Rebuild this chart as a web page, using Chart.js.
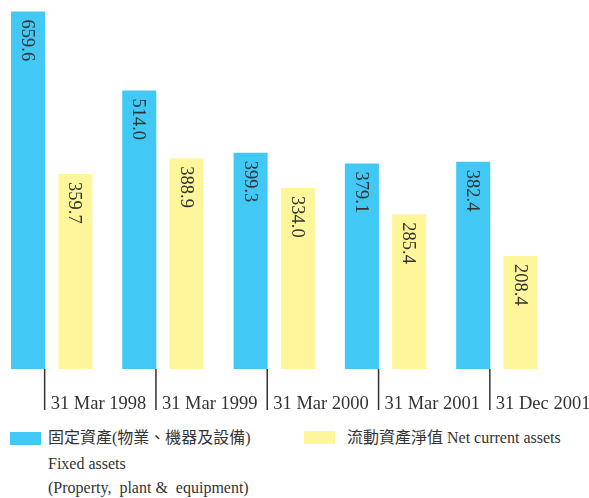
<!DOCTYPE html>
<html>
<head>
<meta charset="utf-8">
<script src="https://cdn.jsdelivr.net/npm/chart.js@4"></script>
<style>
  body { margin: 0; background: #fff; overflow: hidden; }
  #wrap { position: relative; width: 589px; height: 498px; overflow: hidden; }
  canvas { position: absolute; left: -4px; top: 0; }
  .legend { position: absolute; font-family: "Liberation Serif", "Noto Sans CJK TC", serif; font-size: 16px; color: #333; line-height: 24px; white-space: pre; }
  .box { position: absolute; height: 13px; width: 31px; }
</style>
</head>
<body>
<div id="wrap">
  <canvas id="assetsChart" width="593" height="415"></canvas>
  <div class="box" style="left:10px; top:432px; background:#41c8f5;"></div>
  <div class="legend" style="left:48px; top:426px;">固定資產(物業、機器及設備)
<span style="position:relative; top:2px;">Fixed assets</span>
<span style="position:relative; top:2px;">(Property,  plant &amp;  equipment)</span></div>
  <div class="box" style="left:304px; top:431px; background:#fff69b;"></div>
  <div class="legend" style="left:347px; top:426px;">流動資產淨值 Net current assets</div>
</div>
<script>
const dates = ['31 Mar 1998', '31 Mar 1999', '31 Mar 2000', '31 Mar 2001', '31 Dec 2001'];
const fixedAssets = [659.6, 514.0, 399.3, 379.1, 382.4];
const netCurrentAssets = [359.7, 388.9, 334.0, 285.4, 208.4];

const serif = '"Liberation Serif", "Times New Roman", serif';

// value written down inside each bar, rotated
const barLabels = {
    id: 'barLabels',
    afterDatasetsDraw(chart) {
        const ctx = chart.ctx;
        ctx.save();
        ctx.font = '18.5px ' + serif;
        ctx.fillStyle = '#333';
        ctx.textAlign = 'left';
        ctx.textBaseline = 'middle';
        chart.data.datasets.forEach((ds, i) => {
            chart.getDatasetMeta(i).data.forEach((bar, j) => {
                ctx.save();
                ctx.translate(bar.x, bar.y + 8);
                ctx.rotate(Math.PI / 2);
                ctx.fillText(ds.data[j].toFixed(1), 0, 1);
                ctx.restore();
            });
        });
        ctx.restore();
    }
};

// date labels with a separator line left of each
const dateAxis = {
    id: 'dateAxis',
    afterDraw(chart) {
        const ctx = chart.ctx;
        const x = chart.scales.x;
        const bottom = chart.chartArea.bottom;
        ctx.save();
        ctx.strokeStyle = '#333';
        ctx.lineWidth = 1.5;
        ctx.fillStyle = '#333';
        ctx.font = '18.5px ' + serif;
        ctx.textAlign = 'left';
        ctx.textBaseline = 'alphabetic';
        dates.forEach((d, i) => {
            const px = x.getPixelForValue(i) - 7;
            ctx.beginPath();
            ctx.moveTo(px, bottom);
            ctx.lineTo(px, bottom + 41);
            ctx.stroke();
            ctx.fillText(d, px + 6, bottom + 40);
        });
        ctx.restore();
    }
};

const ctx = document.getElementById('assetsChart').getContext('2d');
new Chart(ctx, {
    type: 'bar',
    data: {
        labels: dates,
        datasets: [{
            label: '固定資產(物業、機器及設備) Fixed assets (Property, plant & equipment)',
            data: fixedAssets,
            backgroundColor: '#41c8f5'
        }, {
            label: '流動資產淨值 Net current assets',
            data: netCurrentAssets,
            backgroundColor: '#fff69b'
        }]
    },
    options: {
        responsive: false,
        animation: false,
        layout: { padding: { left: 0, right: 36.5, top: 0, bottom: 46 } },
        categoryPercentage: 0.85,
        barPercentage: 0.72,
        plugins: {
            legend: { display: false },
            tooltip: { enabled: false }
        },
        scales: {
            x: { display: false },
            y: {
                display: false,
                min: 0,
                max: 681
            }
        }
    },
    plugins: [barLabels, dateAxis]
});
</script>
</body>
</html>
